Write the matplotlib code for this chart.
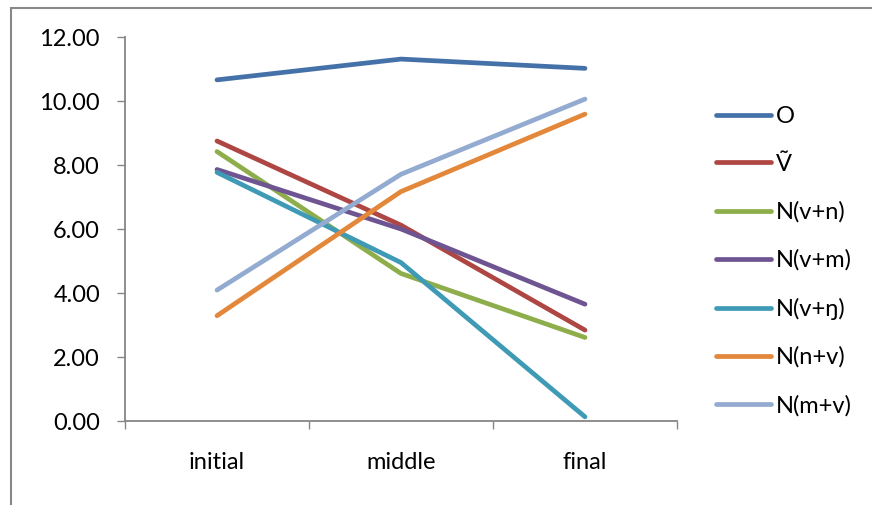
import matplotlib
matplotlib.use("Agg")
import matplotlib.pyplot as plt
from matplotlib.patches import Rectangle
from matplotlib.ticker import FixedLocator, FuncFormatter, NullFormatter

plt.rcParams["font.family"] = ["Lato", "DejaVu Sans"]

categories = ["initial", "middle", "final"]
series_names = ["O", "Ṽ", "N(v+n)", "N(v+m)", "N(v+ŋ)", "N(n+v)", "N(m+v)"]
o_vals = [10.66, 11.31, 11.02]
v_nasal_vals = [8.75, 6.12, 2.84]
n_vn_vals = [8.42, 4.61, 2.61]
n_vm_vals = [7.86, 6.00, 3.65]
n_veng_vals = [7.77, 4.95, 0.13]
n_nv_vals = [3.29, 7.17, 9.59]
n_mv_vals = [4.09, 7.71, 10.06]
colors = ["#4472A8", "#AE4643", "#8DAE4B", "#6E5592", "#3F9AB5", "#E3873A", "#93ABD0"]

all_vals = [o_vals, v_nasal_vals, n_vn_vals, n_vm_vals, n_veng_vals, n_nv_vals, n_mv_vals]

W, H = 872, 505
fig = plt.figure(figsize=(W / 100, H / 100), dpi=100)
ax = fig.add_axes([125 / W, (H - 421) / H, (677 - 125) / W, (421 - 37) / H])

x = list(range(len(categories)))
for name, vals, col in zip(series_names, all_vals, colors):
    ax.plot(x, vals, color=col, lw=3.4, solid_capstyle="round",
            solid_joinstyle="round", label=name)

ax.set_xlim(-0.5, 2.5)
ax.set_ylim(0, 12)
ax.set_yticks(range(0, 13, 2))
ax.yaxis.set_major_formatter(FuncFormatter(lambda v, p: f"{v:.2f}"))

ax.xaxis.set_major_locator(FixedLocator([-0.5, 0.5, 1.5, 2.5]))
ax.xaxis.set_major_formatter(NullFormatter())
ax.xaxis.set_minor_locator(FixedLocator(x))
ax.set_xticks(x, categories, minor=True)
ax.tick_params(axis="x", which="major", direction="out", length=6, width=1, color="#868686")
ax.tick_params(axis="x", which="minor", length=0, pad=22, labelsize=17)
ax.tick_params(axis="y", direction="out", length=6, width=1, color="#868686", pad=12, labelsize=17)

for side in ["top", "right"]:
    ax.spines[side].set_visible(False)
for side in ["left", "bottom"]:
    ax.spines[side].set_color("#868686")
    ax.spines[side].set_linewidth(1.3)

ax.legend(loc="upper left", bbox_to_anchor=(716 / W, (H - 106) / H),
          bbox_transform=fig.transFigure, frameon=False, fontsize=17,
          handlelength=2.33, handletextpad=0.2, labelspacing=1.13,
          borderpad=0, borderaxespad=0)

fig.patches.append(Rectangle((11 / W, -0.1), 1.2, (H - 7.5) / H + 0.1,
                             transform=fig.transFigure, fill=False,
                             edgecolor="#888888", linewidth=1.5))

fig.savefig("out.png", dpi=100)
